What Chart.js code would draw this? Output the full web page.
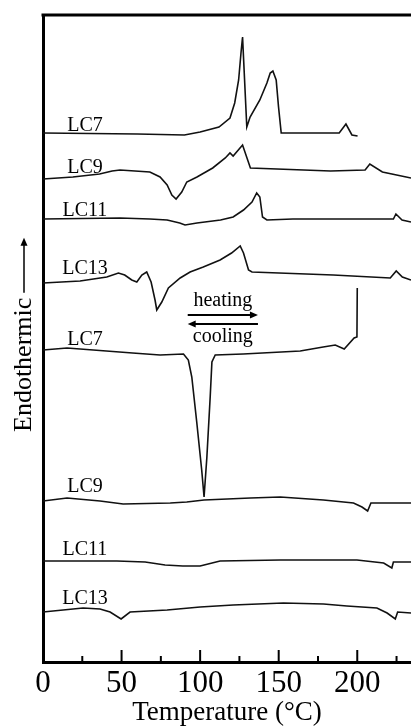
<!DOCTYPE html>
<html>
<head>
<meta charset="utf-8">
<script src="https://cdn.jsdelivr.net/npm/chart.js@4.4.0/dist/chart.umd.min.js"></script>
<style>
html, body { margin: 0; padding: 0; background: #fff; }
</style>
</head>
<body>
<canvas id="grafica" width="411" height="726"></canvas>
<script>
// DSC curves, temperature in °C, heat flow in arbitrary units (curves stacked)
var lc7HeatT = [0, 60, 90, 100, 112, 119, 122, 124.5, 126, 127, 129.7, 131.8, 138, 142.5, 144.6, 146.3, 148.4, 149.9, 151.6, 188.5, 192.8, 196.6, 200.2];
var lc7HeatY = [529, 528, 527, 530, 535, 544, 559, 582, 609, 625, 535, 545, 562, 579, 589, 591, 582, 555, 529, 529, 538, 527, 526];

var lc9HeatT = [0, 19, 36, 44, 49, 68, 74.5, 79, 82, 84.7, 88.3, 91.5, 98, 108, 116, 119, 121, 127, 132, 183, 205, 208, 216, 234.2];
var lc9HeatY = [483, 485, 488, 491, 492, 490, 485, 477, 467, 463, 470, 480, 485, 494, 504, 509, 506, 517, 494, 491, 492, 498, 490, 484];

var lc11HeatT = [0, 49, 68, 79, 87, 90.4, 98, 113, 121, 127.6, 133, 136, 138, 139.7, 142.5, 159, 223, 224.6, 228.5, 234.2];
var lc11HeatY = [443, 444, 443, 442, 439, 437, 439, 442, 445, 452, 460, 469, 465, 445, 442, 443, 443, 448, 442, 440];

var lc13HeatT = [0, 23.6, 40.6, 48, 52, 56.5, 59.7, 62.9, 66, 68.8, 71.3, 72.4, 75.6, 79.8, 87.3, 93.6, 102, 112.7, 120, 125.5, 127.6, 130.8, 133, 184.7, 221, 224.8, 228.7, 234.2];
var lc13HeatY = [379, 381, 385, 389, 387, 382, 380, 387, 390, 380, 362, 352, 360, 374, 384, 390, 395, 402, 409, 416, 409, 392, 390, 387, 384, 391, 385, 382];

var lc7CoolT = [0, 15.3, 57, 74.5, 89.4, 92.5, 94.7, 97.9, 101, 102.5, 104.3, 106.4, 107.5, 109.6, 127.4, 163.7, 178.3, 186, 191.7, 198, 199.8, 200];
var lc7CoolY = [312, 314, 309, 307, 308, 302, 285, 239, 192, 165, 205, 265, 300, 307, 308, 311, 315, 317, 313, 324, 325, 374];

var lc9CoolT = [0, 15.3, 36.3, 51, 81, 91.5, 102.5, 132, 151, 178.5, 197.6, 203, 206.6, 208.7, 234.2];
var lc9CoolY = [161, 164, 161, 158, 159, 160, 162, 164, 165, 162, 159, 155, 151, 159, 159];

var lc11CoolT = [0, 47, 65, 77.7, 89, 100, 112.7, 151, 199.8, 216.8, 222, 223, 234.2];
var lc11CoolY = [101, 101, 100, 97, 96, 96, 101, 102, 102, 99, 94, 100, 100];

var lc13CoolT = [0, 25.5, 36.3, 42.7, 49.7, 55.4, 79, 100, 121, 153, 178.5, 193.4, 212.5, 219, 224.2, 225.7, 234.2];
var lc13CoolY = [50, 54, 53, 50, 43, 50, 52, 55, 57, 59, 58, 56, 54, 49, 43, 50, 49];

// curve labels
var labelNames = ["LC7", "LC9", "LC11", "LC13", "LC7", "LC9", "LC11", "LC13"];
var labelT = 26.7;
var labelY = [531, 489, 446, 388, 317, 170, 107, 58];

function pts(t, y) {
    return t.map(function (v, i) { return { x: v, y: y[i] }; });
}

function curva(t, y) {
    return {
        data: pts(t, y),
        showLine: true,
        borderColor: "#111",
        borderWidth: 1.6,
        pointRadius: 0,
        tension: 0,
        fill: false
    };
}

function flecha(ctx, x1, y, x2) {
    // horizontal arrow, head at x2
    var d = x2 > x1 ? 1 : -1;
    ctx.beginPath();
    ctx.moveTo(x1, y);
    ctx.lineTo(x2 - d * 6, y);
    ctx.stroke();
    ctx.beginPath();
    ctx.moveTo(x2, y);
    ctx.lineTo(x2 - d * 8, y - 3.5);
    ctx.lineTo(x2 - d * 8, y + 3.5);
    ctx.closePath();
    ctx.fill();
}

var extras = {
    id: "extras",
    afterDraw: function (chart) {
        var ctx = chart.ctx, xs = chart.scales.x, ys = chart.scales.y, a = chart.chartArea;
        ctx.save();
        ctx.strokeStyle = "#000";
        ctx.fillStyle = "#000";

        // top frame
        ctx.lineWidth = 3;
        ctx.beginPath();
        ctx.moveTo(a.left - 1.5, a.top);
        ctx.lineTo(a.right, a.top);
        ctx.stroke();

        // inward ticks on the temperature axis
        ctx.lineWidth = 2;
        xs.ticks.forEach(function (t) {
            var px = xs.getPixelForValue(t.value);
            var len = t.value % 50 === 0 ? 12 : 6;
            ctx.beginPath();
            ctx.moveTo(px, a.bottom);
            ctx.lineTo(px, a.bottom - len);
            ctx.stroke();
        });

        // curve names
        ctx.font = '20px "Liberation Serif"';
        ctx.textAlign = "center";
        ctx.textBaseline = "alphabetic";
        labelNames.forEach(function (n, i) {
            ctx.fillText(n, xs.getPixelForValue(labelT), ys.getPixelForValue(labelY[i]));
        });

        // heating / cooling
        var xl = xs.getPixelForValue(92.1), xr = xs.getPixelForValue(136.8);
        ctx.font = '20px "Liberation Serif"';
        ctx.fillText("heating", (xl + xr) / 2, ys.getPixelForValue(356));
        ctx.fillText("cooling", (xl + xr) / 2, ys.getPixelForValue(320));
        ctx.lineWidth = 2;
        flecha(ctx, xl, ys.getPixelForValue(347), xr);
        flecha(ctx, xr, ys.getPixelForValue(338), xl);
        ctx.restore();

        // y title with arrow
        ctx.save();
        ctx.translate(31, 432);
        ctx.rotate(-Math.PI / 2);
        ctx.fillStyle = "#000";
        ctx.strokeStyle = "#000";
        ctx.font = '26px "Liberation Serif"';
        ctx.textAlign = "left";
        ctx.textBaseline = "alphabetic";
        ctx.fillText("Endothermic", 0, 0);
        var w = ctx.measureText("Endothermic").width;
        ctx.lineWidth = 1.5;
        flecha(ctx, w + 5, -7, w + 60);
        ctx.restore();
    }
};

var ctx = document.getElementById("grafica").getContext("2d");
var myChart = new Chart(ctx, {
    type: "scatter",
    data: {
        datasets: [
            curva(lc7HeatT, lc7HeatY),
            curva(lc9HeatT, lc9HeatY),
            curva(lc11HeatT, lc11HeatY),
            curva(lc13HeatT, lc13HeatY),
            curva(lc7CoolT, lc7CoolY),
            curva(lc9CoolT, lc9CoolY),
            curva(lc11CoolT, lc11CoolY),
            curva(lc13CoolT, lc13CoolY)
        ]
    },
    options: {
        responsive: false,
        animation: false,
        devicePixelRatio: 1,
        layout: { padding: { top: 15, right: 0, left: 0, bottom: 0 } },
        plugins: {
            legend: { display: false },
            tooltip: { enabled: false }
        },
        scales: {
            x: {
                type: "linear",
                min: 0,
                max: 234.2,
                ticks: {
                    stepSize: 25,
                    includeBounds: false,
                    autoSkip: false,
                    maxRotation: 0,
                    padding: 3,
                    color: "#000",
                    font: { family: "Liberation Serif", size: 31 },
                    callback: function (v) { return v % 50 === 0 ? v : ""; }
                },
                grid: { display: false, drawTicks: false },
                border: { display: true, width: 3, color: "#000" },
                title: {
                    display: true,
                    text: "Temperature (°C)",
                    color: "#000",
                    font: { family: "Liberation Serif", size: 27, lineHeight: 1 },
                    padding: { top: 0, bottom: 0 }
                },
                afterFit: function (s) { s.height = 64; }
            },
            y: {
                type: "linear",
                min: 0,
                max: 647,
                ticks: { display: false },
                grid: { display: false, drawTicks: false },
                border: { display: true, width: 3, color: "#000" },
                afterFit: function (s) { s.width = 43; }
            }
        }
    },
    plugins: [extras]
});
</script>
</body>
</html>
